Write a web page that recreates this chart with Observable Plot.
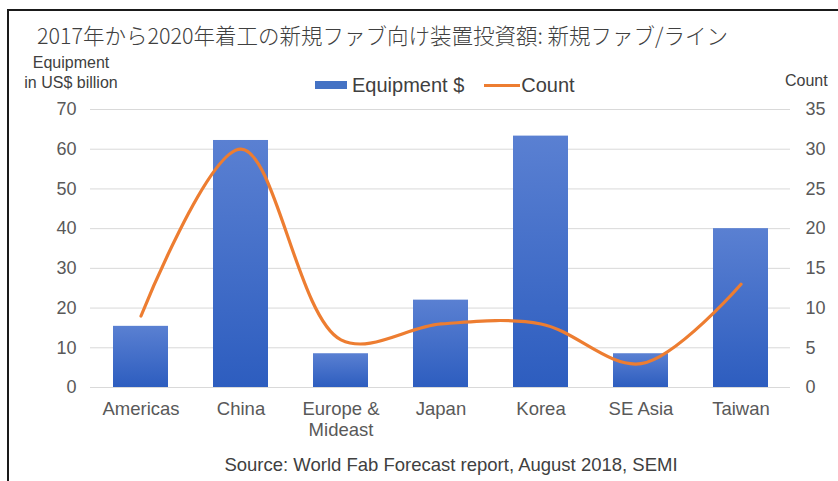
<!DOCTYPE html>
<html>
<head>
<meta charset="utf-8">
<script src="https://cdn.jsdelivr.net/npm/d3@7"></script>
<script src="https://cdn.jsdelivr.net/npm/@observablehq/plot@0.6"></script>
<style>
  html, body { margin: 0; padding: 0; background: #fff; }
  #wrap { position: relative; width: 838px; height: 481px; overflow: hidden; font-family: "Liberation Sans", Arial, sans-serif; }
  #frame { position: absolute; left: 7px; top: 9px; width: 900px; height: 520px; border: 2px solid #1a1a1a; box-sizing: border-box; }
  .abs { position: absolute; white-space: nowrap; }
  #title { left: 37px; top: 23px; font-family: "Noto Sans CJK JP", sans-serif; font-weight: 300; font-size: 22px; color: #404040; line-height: 1; transform-origin: 0 0; transform: scaleX(0.977); }
  #ylab { left: 71px; top: 53px; transform: translateX(-50%); font-size: 16px; color: #404040; line-height: 20px; text-align: center; }
  #rlab { left: 785px; top: 71px; font-size: 16px; color: #404040; line-height: 20px; }
  #legend { left: 315px; top: 73px; font-size: 20px; color: #404040; display: flex; align-items: center; line-height: 24px; }
  #legend .sw { width: 32px; height: 8px; background: #4472c4; margin-right: 5px; }
  #legend .ln { width: 36px; height: 3px; background: #ed7d31; margin-left: 20px; margin-right: 1px; }
  #source { left: 0; width: 902px; top: 455px; text-align: center; font-size: 18.5px; color: #404040; line-height: 20px; }
  #chart { position: absolute; left: 0; top: 0; }
</style>
</head>
<body>
<div id="wrap">
  <div id="frame"></div>
  <svg width="0" height="0" style="position:absolute">
    <defs>
      <linearGradient id="barGrad" x1="0" y1="0" x2="0" y2="1">
        <stop offset="0%" stop-color="#5a80d2"/>
        <stop offset="100%" stop-color="#2d5dbf"/>
      </linearGradient>
    </defs>
  </svg>
  <div id="chart"></div>
  <div class="abs" id="title">2017年から2020年着工の新規ファブ向け装置投資額: 新規ファブ/ライン</div>
  <div class="abs" id="ylab">Equipment<br>in US$ billion</div>
  <div class="abs" id="rlab">Count</div>
  <div class="abs" id="legend"><span class="sw"></span><span>Equipment $</span><span class="ln"></span><span>Count</span></div>
  <div class="abs" id="source">Source: World Fab Forecast report, August 2018, SEMI</div>
</div>
<script>
const regions = ["Americas", "China", "Europe & Mideast", "Japan", "Korea", "SE Asia", "Taiwan"];
const equipment = [15.4, 62.2, 8.5, 22.0, 63.3, 8.5, 40.0];
const counts = [9, 30, 6, 8, 8, 3, 13];
const equipTicks = [0, 10, 20, 30, 40, 50, 60, 70];
const countTicks = [0, 5, 10, 15, 20, 25, 30, 35];

const data = regions.map((r, i) => ({region: r, equipment: equipment[i], count: counts[i]}));
const ratio = equipTicks[equipTicks.length - 1] / countTicks[countTicks.length - 1];

const chart = Plot.plot({
  width: 838,
  height: 481,
  marginLeft: 90,
  marginRight: 48,
  marginTop: 109,
  marginBottom: 94,
  style: {fontFamily: "'Liberation Sans', Arial, sans-serif", background: "transparent", overflow: "visible"},
  x: {domain: regions, paddingInner: 0.45, paddingOuter: 0.225, label: null},
  y: {domain: [0, 70], label: null},
  marks: [
    Plot.gridY(equipTicks, {stroke: "#d9d9d9", strokeOpacity: 1, strokeWidth: 1}),
    Plot.barY(data, {x: "region", y: "equipment", fill: "url(#barGrad)"}),
    Plot.line(data, {x: "region", y: d => d.count * ratio, stroke: "#ed7d31", strokeWidth: 3.2, curve: "catmull-rom"}),
    Plot.axisY({anchor: "left", ticks: equipTicks, tickSize: 0, tickPadding: 14, fontSize: 18, fill: "#595959", label: null}),
    Plot.axisY({anchor: "right", ticks: countTicks.map(c => c * ratio), tickFormat: d => d / ratio, tickSize: 0, tickPadding: 15, fontSize: 18, fill: "#595959", label: null}),
    Plot.axisX({tickSize: 0, tickPadding: 12, fontSize: 18.5, fill: "#595959", lineHeight: 1.15, label: null,
      tickFormat: d => d.replace(" & ", " &\n")})
  ]
});
document.getElementById("chart").appendChild(chart);
</script>
</body>
</html>
